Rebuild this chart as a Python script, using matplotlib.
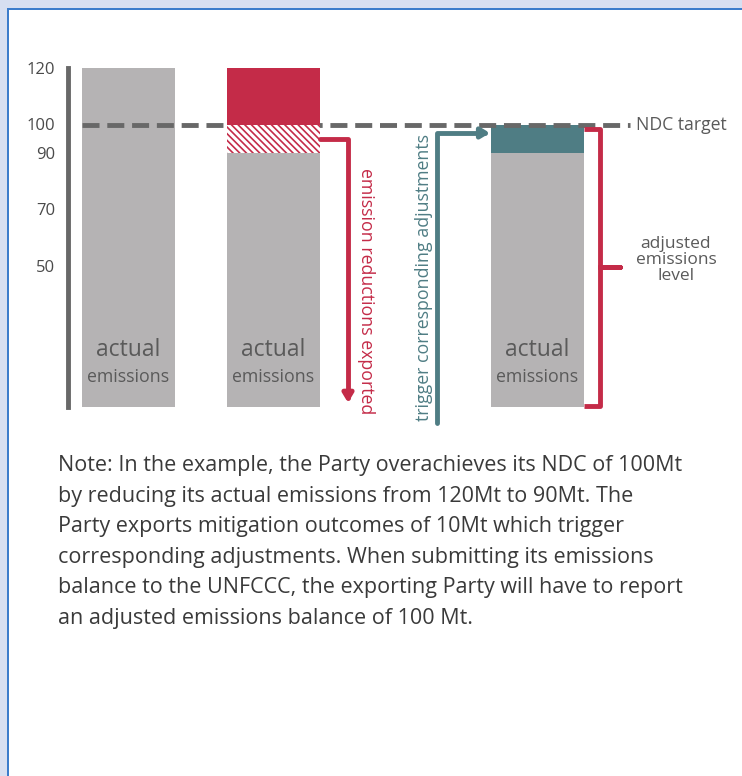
import matplotlib.pyplot as plt
from matplotlib.patches import Rectangle, FancyArrowPatch
from matplotlib.path import Path
from matplotlib.patches import PathPatch

plt.rcParams['font.family'] = ['Open Sans', 'DejaVu Sans']

# values (Mt)
actual = [120, 90, 90]
exported_hatch = [0, 10, 0]
exported_top = [0, 20, 0]
adjustment = [0, 0, 10]
ndc_target = 100
yticks = [50, 70, 90, 100, 120]

# layout (x in pixel-like units)
xpos = [128.5, 273.5, 537.5]
bw = 93

GRAY = '#b5b3b4'
RED = '#c42b48'
TEAL = '#4f7d84'
DARK = '#5a5a5a'
AXIS = '#686868'

fig = plt.figure(figsize=(7.42, 7.76), dpi=100)
fig.patch.set_facecolor('white')

# frame
fig.add_artist(Rectangle((0, 0), 7 / 742, 1, transform=fig.transFigure, color='#d7dff1', lw=0))
fig.add_artist(Rectangle((0, 1 - 8 / 776), 1, 8 / 776, transform=fig.transFigure, color='#d7dff1', lw=0))
fig.add_artist(Rectangle((7 / 742, 0), 2 / 742, 1 - 8 / 776, transform=fig.transFigure, color='#3c7ccb', lw=0))
fig.add_artist(Rectangle((7 / 742, 1 - 10 / 776), 1, 2 / 776, transform=fig.transFigure, color='#3c7ccb', lw=0))

ax = fig.add_axes([0, (776 - 407) / 776, 1, 339 / 776])
ax.set_xlim(0, 742)
ax.set_ylim(0, 120)
ax.set_facecolor('none')
for s in ['top', 'right', 'bottom']:
    ax.spines[s].set_visible(False)
ax.spines['left'].set_position(('data', 67.5))
ax.spines['left'].set_linewidth(3.5)
ax.spines['left'].set_color(AXIS)
ax.set_xticks([])
ax.set_yticks(yticks)
ax.tick_params(axis='y', length=0, pad=9, labelsize=12, labelcolor='#4a4a4a')

# bars
hatch_bottom = [a for a in actual]
top_bottom = [a + h for a, h in zip(actual, exported_hatch)]
ax.bar(xpos, actual, width=bw, color=GRAY, zorder=2)
plt.rcParams['hatch.linewidth'] = 1.2
ax.bar(xpos, exported_hatch, bottom=hatch_bottom, width=bw, color='white',
       edgecolor=RED, hatch='\\\\\\\\\\', lw=0, zorder=4)
ax.bar(xpos, exported_top, bottom=top_bottom, width=bw, color=RED, zorder=4)
ax.bar(xpos, adjustment, bottom=actual, width=bw, color=TEAL, zorder=2)

# NDC target line
ax.plot([xpos[0] - bw / 2, 630], [ndc_target, ndc_target], color=AXIS, lw=3.5,
        dashes=(3.5, 1.6), zorder=3, clip_on=False)
ax.text(636, ndc_target, 'NDC target', color=DARK, fontsize=12.7, va='center', ha='left')

# bar labels
for x in xpos:
    ax.text(x, 20, 'actual', ha='center', va='center', fontsize=16.5, color=DARK, zorder=5)
    ax.text(x, 10.5, 'emissions', ha='center', va='center', fontsize=12.8, color=DARK, zorder=5)

# red arrow: exported reductions
rx = 348
red_path = Path([(xpos[1] + bw / 2, 95), (rx, 95), (rx, 1.5)],
                [Path.MOVETO, Path.LINETO, Path.LINETO])
ax.add_patch(FancyArrowPatch(path=red_path, arrowstyle='-|>,head_length=5,head_width=3',
                             color=RED, lw=3.5, joinstyle='round', clip_on=False, zorder=5))
ax.text(366, 84.5, 'emission reductions exported', rotation=-90, color=RED,
        fontsize=12.8, ha='center', va='top')

# teal arrow: corresponding adjustments
tx = 437
teal_path = Path([(tx, -5.5), (tx, 97), (xpos[2] - bw / 2 - 1, 97)],
                 [Path.MOVETO, Path.LINETO, Path.LINETO])
ax.add_patch(FancyArrowPatch(path=teal_path, arrowstyle='-|>,head_length=5,head_width=3',
                             color=TEAL, lw=3.5, joinstyle='round', clip_on=False, zorder=5))
ax.text(424, -5, 'trigger corresponding adjustments', rotation=90, color=TEAL,
        fontsize=12.8, ha='center', va='bottom')

# bracket
bx0 = xpos[2] + bw / 2
bx1 = 600
ymid = 49.5
bracket = Path([(bx0, 98.5), (bx1, 98.5), (bx1, ymid), (620, ymid), (bx1, ymid),
                (bx1, 0.5), (bx0, 0.5)],
               [Path.MOVETO] + [Path.LINETO] * 6)
ax.add_patch(PathPatch(bracket, fill=False, edgecolor=RED, lw=3.5, joinstyle='round',
                       capstyle='butt', clip_on=False, zorder=5))
ax.text(676, 52, 'adjusted\nemissions\nlevel', ha='center', va='center', color=DARK,
        fontsize=12.5, linespacing=0.98)

note = ("Note: In the example, the Party overachieves its NDC of 100Mt\n"
        "by reducing its actual emissions from 120Mt to 90Mt. The\n"
        "Party exports mitigation outcomes of 10Mt which trigger\n"
        "corresponding adjustments. When submitting its emissions\n"
        "balance to the UNFCCC, the exporting Party will have to report\n"
        "an adjusted emissions balance of 100 Mt.")
fig.text(58 / 742, 1 - 455 / 776, note, ha='left', va='top', fontsize=15.5,
         color='#3a3a3a', linespacing=1.6)

plt.savefig('out.png', dpi=100)
plt.close()
